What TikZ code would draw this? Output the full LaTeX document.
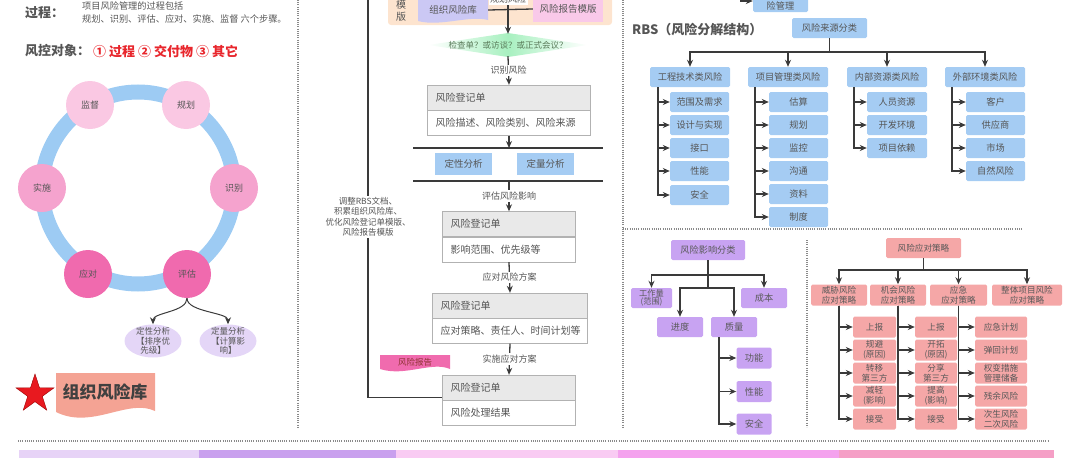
\documentclass[tikz,border=0pt]{standalone}
\usepackage{fontspec}
\setmainfont{Noto Sans CJK SC}
\usetikzlibrary{arrows.meta,positioning,shapes.geometric}
\definecolor{inkgray}{HTML}{555555}
\definecolor{linegray}{HTML}{3A3A3A}
\definecolor{dotgray}{HTML}{8A8A8A}
\definecolor{ringblue}{HTML}{9DCBF3}
\definecolor{stagelight}{HTML}{FAC8E3}
\definecolor{stagemid}{HTML}{F5A3CE}
\definecolor{stagehot}{HTML}{F06AAE}
\definecolor{lavfill}{HTML}{E4D6F7}
\definecolor{rbsblue}{HTML}{A5CCF3}
\definecolor{impurple}{HTML}{C8A3F2}
\definecolor{stratred}{HTML}{F5A7A7}
\definecolor{peach}{HTML}{FDE4CF}
\definecolor{libviolet}{HTML}{CBC8F4}
\definecolor{tplpink}{HTML}{F9C9E9}
\definecolor{reportpink}{HTML}{F06BAE}
\definecolor{bannersalmon}{HTML}{F4A394}
\definecolor{starred}{HTML}{E8191F}
\definecolor{warnred}{HTML}{E8262C}
\definecolor{checkgreen}{HTML}{A8F0C0}
\definecolor{bandA}{HTML}{E7D3F7}
\definecolor{bandB}{HTML}{C9A0EE}
\definecolor{bandC}{HTML}{F9CBF3}
\definecolor{bandD}{HTML}{F4A2EE}
\definecolor{bandE}{HTML}{F59FC6}
\tikzset{
  sepline/.style={draw=dotgray, line width=1.1pt, dash pattern=on 0.9pt off 1.3pt},
  link/.style={draw=linegray, line width=1.3pt},
  arr/.style={link, -{Stealth[length=7pt,width=6pt]}},
  bar/.style={draw=linegray, line width=2.2pt},
  heading/.style={font=\fontsize{13}{15}\selectfont\bfseries, text=inkgray, anchor=west, inner sep=0pt},
  note/.style={font=\fontsize{9.2}{11}\selectfont, text=inkgray, anchor=west, inner sep=0pt},
  stage/.style={circle, minimum size=48pt, inner sep=0pt, font=\fontsize{9}{10}\selectfont, text=inkgray},
  ellip/.style={ellipse, fill=lavfill, minimum width=57pt, minimum height=33pt, inner sep=0pt},
  elltext/.style={align=center, font=\fontsize{8.5}{9.5}\selectfont, text=inkgray, inner sep=0pt},
  reghead/.style={draw=gray!60, fill=gray!17, minimum height=25pt, text width=#1, inner xsep=8pt, inner ysep=0pt, align=left, font=\fontsize{10}{12}\selectfont, text=inkgray},
  regbody/.style={draw=gray!60, fill=white, minimum height=25pt, text width=#1, inner xsep=8pt, inner ysep=0pt, align=left, font=\fontsize{10}{12}\selectfont, text=inkgray},
  flowlbl/.style={fill=white, inner sep=1.5pt, font=\fontsize{9}{10}\selectfont, text=inkgray},
  anabox/.style={fill=rbsblue, minimum width=57pt, minimum height=22pt, inner sep=0pt, font=\fontsize{9.5}{11}\selectfont, text=inkgray},
  rbsbox/.style={fill=rbsblue, rounded corners=1.5pt, minimum height=20pt, inner sep=0.5pt, align=center, font=\fontsize{9.2}{10}\selectfont, text=inkgray},
  impbox/.style={fill=impurple, rounded corners=1.5pt, minimum height=20pt, inner sep=0.5pt, align=center, font=\fontsize{9.2}{10}\selectfont, text=black!65},
  stratbox/.style={fill=stratred, rounded corners=1.5pt, minimum height=21pt, inner sep=0.5pt, align=center, font=\fontsize{8.6}{9.6}\selectfont, text=black!65},
}

\begin{document}
\begin{tikzpicture}[x=1pt,y=-1pt]
\useasboundingbox (0,0) rectangle (1080,458);
\node[heading] (proclbl) at (25,13) {过程：};
\node[note] (procl1) at (82,6) {项目风险管理的过程包括};
\node[note] (procl2) at (82,19) {规划、识别、评估、应对、实施、监督 六个步骤。};
\node[heading] (objlbl) at (25,51) {风控对象：};
\node[heading, text=warnred] (objlist) at (93,51) {① 过程 ② 交付物 ③ 其它};
\draw[ringblue, line width=15pt] (138,188) circle (96pt);
\node[stage, fill=stagelight] (jiandu) at (90,105) {监督};
\node[stage, fill=stagelight] (guihua) at (186,105) {规划};
\node[stage, fill=stagemid] (shibie) at (234,188) {识别};
\node[stage, fill=stagehot] (pinggu) at (187,274) {评估};
\node[stage, fill=stagehot] (yingdui) at (88,274) {应对};
\node[stage, fill=stagemid] (shishi) at (42,188) {实施};
\node[ellip] (dxell) at (153,341) {};
\node[elltext] (dxtxt) at (dxell) {定性分析\\【排序优\\先级】};
\node[ellip] (dlell) at (228,341) {};
\node[elltext] (dltxt) at (dlell) {定量分析\\【计算影\\响】};
\draw[arr, line width=1pt] (pinggu.south) .. controls +(0,14) and +(0,-12) .. (dxell.north);
\draw[arr, line width=1pt] (pinggu.south) .. controls +(0,14) and +(0,-12) .. (dlell.north);
\node[star, star points=5, star point ratio=2.6, fill=starred, draw=red!60!black, minimum size=40pt, inner sep=0pt] (libstar) at (35,394) {};
\fill[bannersalmon] (56,373) -- (155,373) -- (155,411) .. controls (128,398) and (92,430) .. (56,412) -- cycle;
\node[font=\fontsize{17}{19}\selectfont\bfseries, text=black!75] (libtitle) at (105,392) {组织风险库};
\draw[sepline] (298,0) -- (298,427);
\draw[sepline] (623,0) -- (623,427);
\draw[sepline] (623,229) -- (1022,229);
\draw[sepline] (807,240) -- (807,427);
\draw[sepline] (18,441) -- (1048,441);
\fill[bandA] (19,450) rectangle (199,465);
\fill[bandB] (199,450) rectangle (396,465);
\fill[bandC] (396,450) rectangle (618,465);
\fill[bandD] (618,450) rectangle (839,465);
\fill[bandE] (839,450) rectangle (1054,465);
\node[fill=peach, rounded corners=3pt, minimum width=224pt, minimum height=40pt] (tplbg) at (500,5) {};
\node[align=center, font=\fontsize{10}{12}\selectfont, text=inkgray, inner sep=0pt] (tplword) at (401,11) {模\\版};
\fill[libviolet] (418,-5) -- (488,-5) -- (488,20) .. controls (470,15) and (440,27) .. (418,21) -- cycle;
\node[minimum width=70pt, inner sep=0pt, font=\fontsize{9.5}{11}\selectfont, text=inkgray] (tpllib) at (453,10) {组织风险库};
\node[fill=tplpink, minimum width=70pt, minimum height=26pt, inner sep=0pt, font=\fontsize{9.5}{11}\selectfont, text=inkgray] (tplrep) at (568,9) {风险报告模版};
\draw[link] (tpllib.east) -- (tplrep.west);
\shade[left color=white, right color=white, middle color=checkgreen] (428,45) -- (508,33) -- (588,45) -- (508,57) -- cycle;
\node[font=\fontsize{8.5}{10}\selectfont, text=green!20!black!65, minimum height=22pt, inner sep=0pt] (chk) at (508,45) {检查单？或访谈？或正式会议？};
\coordinate (plantop) at (508,-10);
\draw[arr] (plantop) -- (chk.north);
\node[flowlbl] (planlbl) at (508,-1) {规划风险};
\node[reghead=147pt] (reg1h) at (509,97.5) {风险登记单};
\node[regbody=147pt, below=0pt of reg1h] (reg1b) {风险描述、风险类别、风险来源};
\draw[arr] (chk.south) -- node[flowlbl] (lbl1) {识别风险} (reg1h.north);
\coordinate (bar1w) at (413,148);
\coordinate (bar1e) at (603,148);
\draw[arr] (reg1b.south) -- (reg1b.south |- bar1w);
\draw[bar] (bar1w) -- (bar1e);
\node[anabox] (dxana) at (463.5,164) {定性分析};
\node[anabox] (dlana) at (545.5,164) {定量分析};
\coordinate (bar2w) at (413,181);
\coordinate (bar2e) at (603,181);
\coordinate (bar2m) at (509,181);
\draw[bar] (bar2w) -- (bar2e);
\node[reghead=117pt] (reg2h) at (509,224) {风险登记单};
\node[regbody=117pt, below=0pt of reg2h] (reg2b) {影响范围、优先级等};
\draw[arr] (bar2m) -- node[flowlbl] (lbl2) {评估风险影响} (reg2h.north);
\node[reghead=139pt] (reg3h) at (510,305.5) {风险登记单};
\node[regbody=139pt, below=0pt of reg3h] (reg3b) {应对策略、责任人、时间计划等};
\draw[arr] (reg2b.south) -- node[flowlbl] (lbl3) {应对风险方案} (reg3h.north);
\node[reghead=117pt] (reg4h) at (509,387.5) {风险登记单};
\node[regbody=117pt, below=0pt of reg4h] (reg4b) {风险处理结果};
\draw[arr] (reg3b.south) -- node[flowlbl] (lbl4) {实施应对方案} (reg4h.north);
\coordinate (fbtop) at (368,-5);
\draw[link] (fbtop) |- ([yshift=3pt]reg4h.south west);
\node[flowlbl, align=center, font=\fontsize{8.5}{10.5}\selectfont] (fblbl) at (368,217) {调整RBS文档、\\积累组织风险库、\\优化风险登记单模版、\\风险报告模版};
\fill[reportpink] (380,355) -- (450,355) -- (450,369) .. controls (432,361) and (405,377) .. (380,369) -- cycle;
\node[font=\fontsize{8.5}{10}\selectfont, text=red!45!black!80, inner sep=0pt] (reptxt) at (415,362) {风险报告};
\node[rbsbox, minimum width=55pt, minimum height=32pt] (rbstop) at (780.5,-4) {};
\node[font=\fontsize{9.2}{10}\selectfont, text=inkgray, inner sep=0pt] (rbstoptxt) at (780.5,6) {险管理};
\coordinate (rbsin) at (741,-12);
\draw[arr] (rbsin) |- ([yshift=-5pt]rbstop.west);
\node[heading] (rbstitle) at (632,30) {RBS（风险分解结构）};
\node[rbsbox, minimum width=75pt] (rbssrc) at (829.5,28) {风险来源分类};
\coordinate (rbsj) at (829.5,52);
\draw[link] (rbssrc.south) -- (rbsj);
\node[rbsbox, minimum width=80pt] (cat1) at (690,77) {工程技术类风险};
\node[rbsbox, minimum width=80pt] (cat2) at (788,77) {项目管理类风险};
\node[rbsbox, minimum width=80pt] (cat3) at (887,77) {内部资源类风险};
\node[rbsbox, minimum width=80pt] (cat4) at (985,77) {外部环境类风险};
\draw[arr] (rbsj) -| (cat1.north);
\draw[arr] (rbsj) -| (cat2.north);
\draw[arr] (rbsj) -| (cat3.north);
\draw[arr] (rbsj) -| (cat4.north);
\node[rbsbox, minimum width=59pt] (r11) at (699.5,102) {范围及需求};
\node[rbsbox, minimum width=59pt] (r12) at (699.5,125) {设计与实现};
\node[rbsbox, minimum width=59pt] (r13) at (699.5,148) {接口};
\node[rbsbox, minimum width=59pt] (r14) at (699.5,171) {性能};
\node[rbsbox, minimum width=59pt] (r15) at (699.5,195) {安全};
\coordinate (t1) at (658,87);
\draw[arr] (t1) |- (r11.west);
\draw[arr] (t1) |- (r12.west);
\draw[arr] (t1) |- (r13.west);
\draw[arr] (t1) |- (r14.west);
\draw[arr] (t1) |- (r15.west);
\node[rbsbox, minimum width=59pt] (r21) at (798.5,102) {估算};
\node[rbsbox, minimum width=59pt] (r22) at (798.5,125) {规划};
\node[rbsbox, minimum width=59pt] (r23) at (798.5,148) {监控};
\node[rbsbox, minimum width=59pt] (r24) at (798.5,171) {沟通};
\node[rbsbox, minimum width=59pt] (r25) at (798.5,194) {资料};
\node[rbsbox, minimum width=59pt] (r26) at (798.5,217) {制度};
\coordinate (t2) at (755,87);
\draw[arr] (t2) |- (r21.west);
\draw[arr] (t2) |- (r22.west);
\draw[arr] (t2) |- (r23.west);
\draw[arr] (t2) |- (r24.west);
\draw[arr] (t2) |- (r25.west);
\draw[arr] (t2) |- (r26.west);
\node[rbsbox, minimum width=60pt] (r31) at (897,102) {人员资源};
\node[rbsbox, minimum width=60pt] (r32) at (897,125) {开发环境};
\node[rbsbox, minimum width=60pt] (r33) at (897,148) {项目依赖};
\coordinate (t3) at (854,87);
\draw[arr] (t3) |- (r31.west);
\draw[arr] (t3) |- (r32.west);
\draw[arr] (t3) |- (r33.west);
\node[rbsbox, minimum width=59pt] (r41) at (995.5,102) {客户};
\node[rbsbox, minimum width=59pt] (r42) at (995.5,125) {供应商};
\node[rbsbox, minimum width=59pt] (r43) at (995.5,148) {市场};
\node[rbsbox, minimum width=59pt] (r44) at (995.5,171) {自然风险};
\coordinate (t4) at (952,87);
\draw[arr] (t4) |- (r41.west);
\draw[arr] (t4) |- (r42.west);
\draw[arr] (t4) |- (r43.west);
\draw[arr] (t4) |- (r44.west);
\node[impbox, minimum width=74pt] (imp) at (708,250) {风险影响分类};
\node[impbox, minimum width=41pt, font=\fontsize{8.2}{8.6}\selectfont] (work) at (651.5,298) {工作量\\(范围)};
\node[impbox, minimum width=46pt] (cost) at (764,298) {成本};
\node[impbox, minimum width=46pt] (sched) at (680,327) {进度};
\node[impbox, minimum width=46pt] (qual) at (734,327) {质量};
\coordinate (impj1) at (708,275);
\coordinate (impj2) at (708,288);
\draw[link] (imp.south) -- (impj2);
\draw[arr] (impj1) -| (work.north);
\draw[arr] (impj1) -| (cost.north);
\draw[arr] (impj2) -| (sched.north);
\draw[arr] (impj2) -| (qual.north);
\node[impbox, minimum width=35pt, minimum height=21pt] (func) at (754,358) {功能};
\node[impbox, minimum width=35pt, minimum height=21pt] (perf) at (754,391.5) {性能};
\node[impbox, minimum width=35pt, minimum height=21pt] (safe) at (754,424) {安全};
\coordinate (qualt) at (719,337);
\draw[arr] (qualt) |- (func.west);
\draw[arr] (qualt) |- (perf.west);
\draw[arr] (qualt) |- (safe.west);
\node[stratbox, minimum width=75pt, minimum height=20pt] (strat) at (923.5,248) {风险应对策略};
\coordinate (stratj) at (923.5,270);
\draw[link] (strat.south) -- (stratj);
\node[stratbox, minimum width=56pt] (threat) at (839,295) {威胁风险\\应对策略};
\node[stratbox, minimum width=56pt] (oppo) at (898,295) {机会风险\\应对策略};
\node[stratbox, minimum width=57pt] (emerg) at (958.5,295) {应急\\应对策略};
\node[stratbox, minimum width=70pt] (whole) at (1027,295) {整体项目风险\\应对策略};
\draw[arr] (stratj) -| (threat.north);
\draw[arr] (stratj) -| (oppo.north);
\draw[arr] (stratj) -| (emerg.north);
\draw[arr] (stratj) -| (whole.north);
\node[stratbox, minimum width=43pt] (th1) at (874.5,327) {上报};
\node[stratbox, minimum width=43pt] (th2) at (874.5,350) {规避\\(原因)};
\node[stratbox, minimum width=43pt] (th3) at (874.5,373) {转移\\第三方};
\node[stratbox, minimum width=43pt] (th4) at (874.5,396) {减轻\\(影响)};
\node[stratbox, minimum width=43pt] (th5) at (874.5,419) {接受};
\draw[arr] (threat.south) |- (th1.west);
\draw[arr] (threat.south) |- (th2.west);
\draw[arr] (threat.south) |- (th3.west);
\draw[arr] (threat.south) |- (th4.west);
\draw[arr] (threat.south) |- (th5.west);
\node[stratbox, minimum width=42pt] (op1) at (936,327) {上报};
\node[stratbox, minimum width=42pt] (op2) at (936,350) {开拓\\(原因)};
\node[stratbox, minimum width=42pt] (op3) at (936,373) {分享\\第三方};
\node[stratbox, minimum width=42pt] (op4) at (936,396) {提高\\(影响)};
\node[stratbox, minimum width=42pt] (op5) at (936,419) {接受};
\draw[arr] (oppo.south) |- (op1.west);
\draw[arr] (oppo.south) |- (op2.west);
\draw[arr] (oppo.south) |- (op3.west);
\draw[arr] (oppo.south) |- (op4.west);
\draw[arr] (oppo.south) |- (op5.west);
\node[stratbox, minimum width=52pt] (em1) at (1001,327) {应急计划};
\node[stratbox, minimum width=52pt] (em2) at (1001,350) {弹回计划};
\node[stratbox, minimum width=52pt] (em3) at (1001,373) {权变措施\\管理储备};
\node[stratbox, minimum width=52pt] (em4) at (1001,396) {残余风险};
\node[stratbox, minimum width=52pt] (em5) at (1001,419) {次生风险\\二次风险};
\draw[arr] (emerg.south) |- (em1.west);
\draw[arr] (emerg.south) |- (em2.west);
\draw[arr] (emerg.south) |- (em3.west);
\draw[arr] (emerg.south) |- (em4.west);
\draw[arr] (emerg.south) |- (em5.west);
\end{tikzpicture}
\end{document}
